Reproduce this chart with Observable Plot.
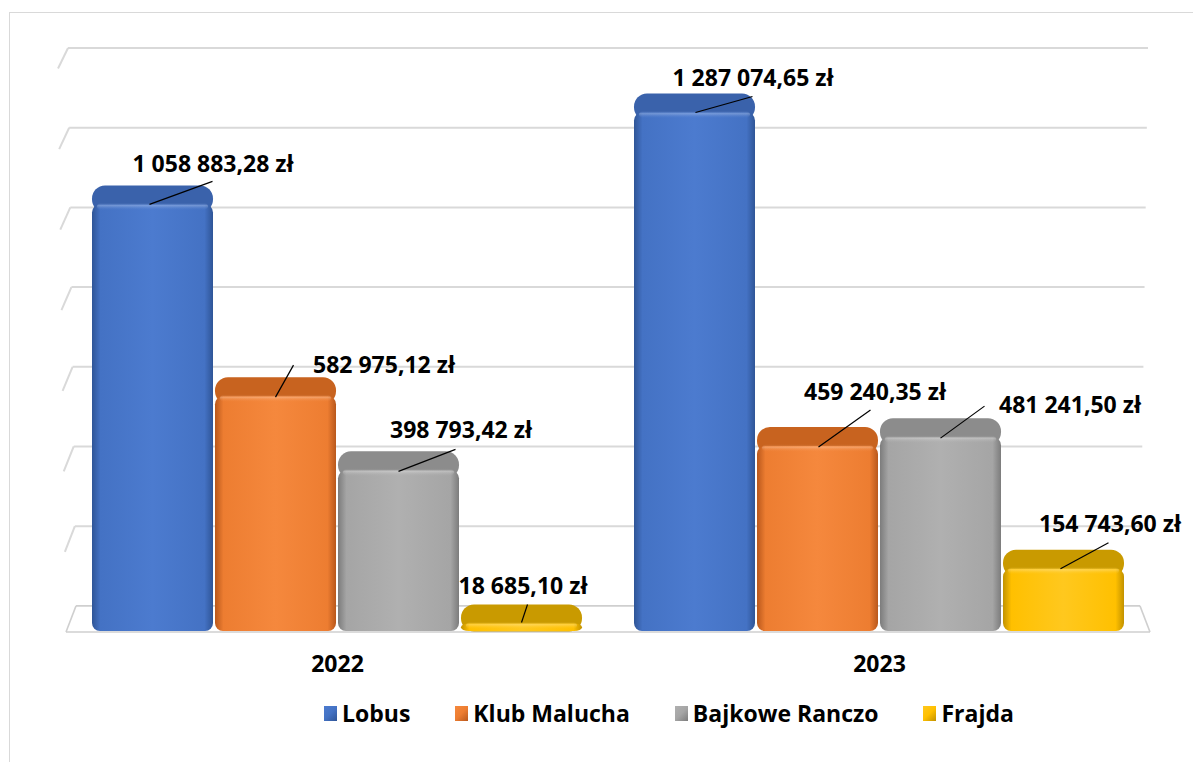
<!DOCTYPE html>
<html><head><meta charset="utf-8">
<script src="https://cdn.jsdelivr.net/npm/d3@7"></script>
<script src="https://cdn.jsdelivr.net/npm/@observablehq/plot@0.6"></script>
<style>
html,body{margin:0;padding:0;background:#fff;}
body{width:1193px;height:762px;position:relative;overflow:hidden;font-family:"Open Sans","Noto Sans",sans-serif;}
#frame{position:absolute;left:9px;top:12px;width:1400px;height:1000px;border:1px solid #d9d9d9;box-sizing:border-box;}
#chart{position:absolute;left:0;top:0;}
#legend{position:absolute;left:324px;top:697px;display:flex;font-weight:bold;font-size:23px;color:#000;line-height:32px;}
#legend .item{display:flex;align-items:center;margin-right:45px;}
#legend .sw{width:13px;height:15px;margin-right:5px;}
</style></head>
<body>
<div id="frame"></div>
<div id="chart"></div>
<div id="legend"></div>
<script>
// ---- data ----
const years = ["2022", "2023"];
const series = ["Lobus", "Klub Malucha", "Bajkowe Ranczo", "Frajda"];
const values2022 = [1058883.28, 582975.12, 398793.42, 18685.10];
const values2023 = [1287074.65, 459240.35, 481241.50, 154743.60];
const gridTicks = [0, 200000, 400000, 600000, 800000, 1000000, 1200000, 1400000];

// ---- styles ----
const baseColors = ["#4472c4", "#ed7d31", "#a5a5a5", "#ffc000"];
const edgeColors = ["#2f5597", "#b9581c", "#7c7c7c", "#c29200"];
const lightColors = ["#4c7bcf", "#f5883d", "#b0b0b0", "#ffc81e"];
const topColors = ["#3a62ab", "#c8631f", "#8c8c8c", "#c99a00"];
// label placement (pixel offsets from bar centre / bar top), order: 2022 series, then 2023 series
const labelLayout = [
  {dx: 60, dy: -33, bx: -3, by: 0, lx: 60, ly: -23},
  {dx: 108, dy: -24, bx: 0, by: 1, lx: 18, ly: -31},
  {dx: 62, dy: -33, bx: 0, by: 1, lx: 57, ly: -21},
  {dx: 1, dy: -30, bx: 0, by: -1, lx: 6, ly: -19},
  {dx: 58, dy: -27, bx: 1, by: 0, lx: 58, ly: -16},
  {dx: 57, dy: -46, bx: 1, by: 1, lx: 53, ly: -36},
  {dx: 129, dy: -25, bx: 0, by: 1, lx: 44, ly: -31},
  {dx: 46, dy: -37, bx: -3, by: 0, lx: 45, ly: -26}
];

const rows = [];
years.forEach((yr, gi) => {
  const vals = gi === 0 ? values2022 : values2023;
  series.forEach((s, si) => rows.push({year: yr, series: s, si, value: vals[si], idx: rows.length}));
});

const pl = d3.formatLocale({decimal: ",", thousands: "\u00a0", grouping: [3], currency: ["", ""]});
const fmt = v => pl.format(",.2f")(v) + "\u00a0zł";

const NS = "http://www.w3.org/2000/svg";
function el(tag, attrs) {
  const e = document.createElementNS(NS, tag);
  for (const k in attrs) e.setAttribute(k, attrs[k]);
  return e;
}

// back-wall projection of a front-plane y pixel
const backY = yy => 0.989 * yy - 18.2;

let wallCall = 0;
function wall(index, scales) {
  const k = wallCall++;
  const g = el("g", {fill: "none"});
  const y = scales.y;
  const [r0, r1] = scales.x.range();
  const yTop = y(gridTicks[gridTicks.length - 1]), yBot = y(0);
  gridTicks.forEach(v => {
    const isFloor = v === 0;
    const yf = isFloor ? yBot + 1 : y(v) + 1.5;
    const yb = backY(y(v));
    const t = (yf - yTop) / (yBot - yTop); // 0 top .. 1 bottom
    const lx0 = r0 - 8 + 8 * t, ux0 = lx0 + 10;
    const ux1 = r1 - 2 - 8 * t;
    const stroke = isFloor ? "#cfcfcf" : "#d9d9d9";
    const sw = isFloor ? 1.6 : 2;
    const xs = k === 0 ? ux0 : r0;
    const xe = k === years.length - 1 ? ux1 : r1;
    g.append(el("line", {x1: xs, x2: xe, y1: yb, y2: yb, stroke, "stroke-width": sw}));
    if (k === 0) g.append(el("line", {x1: lx0, y1: yf, x2: ux0, y2: yb, stroke, "stroke-width": sw}));
    if (isFloor) {
      g.append(el("line", {x1: r0, x2: r1, y1: yf, y2: yf, stroke, "stroke-width": sw}));
      if (k === years.length - 1) g.append(el("line", {x1: ux1, y1: yb, x2: r1, y2: yf, stroke, "stroke-width": sw}));
    }
  });
  return g;
}

let leaderCall = 0;
function leaders(index, scales) {
  const k = leaderCall++;
  const g = el("g", {stroke: "#000", "stroke-width": 1.2});
  const x = scales.x, y = scales.y, bw = x.bandwidth();
  rows.filter(r => r.year === years[k]).forEach(r => {
    const L = labelLayout[r.idx];
    const cx = x(r.series) + bw / 2, cy = y(r.value);
    g.append(el("line", {x1: cx + L.bx, y1: cy + L.by, x2: cx + L.lx, y2: cy + L.ly}));
  });
  return g;
}

const marks = [wall];
// top (receding) face of each bar
marks.push(Plot.barY(rows, {fx: "year", x: "series", y1: "value", y2: "value", insetTop: -19, insetBottom: -8, rx: 13, insetLeft: 1, insetRight: 1,
  fill: d => topColors[d.si]}));
// front face
marks.push(Plot.barY(rows, {fx: "year", x: "series", y: "value", rx: 8, insetLeft: 1, insetRight: 1,
  fill: d => `url(#front${d.si})`}));
// top bevel highlight
marks.push(Plot.barY(rows, {fx: "year", x: "series", y1: "value", y2: "value", insetTop: -2, insetBottom: -6, rx: 6, insetLeft: 6, insetRight: 6,
  fill: d => `url(#bevel${d.si})`}));
marks.push(leaders);
rows.forEach(r => {
  const L = labelLayout[r.idx];
  marks.push(Plot.text([r], {fx: "year", x: "series", y: "value", text: d => fmt(d.value), dx: L.dx, dy: L.dy,
    lineAnchor: "bottom", fill: "#000", fontSize: 23, fontWeight: "bold"}));
});

const chart = Plot.plot({
  width: 1193, height: 690,
  marginLeft: 65, marginRight: 43, marginTop: 67, marginBottom: 59,
  style: {fontFamily: "'Open Sans', 'Noto Sans', sans-serif", fontSize: "23px", fontWeight: "bold", color: "#000", background: "transparent", overflow: "visible"},
  fx: {domain: years, padding: 0, axis: "bottom", tickSize: 0, tickPadding: 24, label: null},
  x: {domain: series, paddingInner: 0, paddingOuter: 0.2, axis: null},
  y: {domain: [0, 1400000], axis: null},
  color: {type: "identity"},
  marks
});
const svg = chart.tagName.toLowerCase() === "svg" ? chart : chart.querySelector("svg");
const defs = el("defs", {});
baseColors.forEach((c, i) => {
  const lg = el("linearGradient", {id: `front${i}`, x1: 0, x2: 1, y1: 0, y2: 0});
  [[0, edgeColors[i]], [0.07, baseColors[i]], [0.5, lightColors[i]], [0.93, baseColors[i]], [1, edgeColors[i]]]
    .forEach(([o, col]) => lg.append(el("stop", {offset: o, "stop-color": col})));
  defs.append(lg);
  const bv = el("linearGradient", {id: `bevel${i}`, x1: 0, x2: 0, y1: 0, y2: 1});
  [[0, lightColors[i], 0.0], [0.4, "#ffffff", 0.25], [1, lightColors[i], 0]]
    .forEach(([o, col, op]) => bv.append(el("stop", {offset: o, "stop-color": col, "stop-opacity": op})));
  defs.append(bv);
});
svg.insertBefore(defs, svg.firstChild);
document.getElementById("chart").append(chart);

// legend
const leg = document.getElementById("legend");
series.forEach((s, i) => {
  const it = document.createElement("div");
  it.className = "item";
  const sw = document.createElement("div");
  sw.className = "sw";
  sw.style.background = `linear-gradient(135deg, ${lightColors[i]} 0%, ${baseColors[i]} 50%, ${edgeColors[i]} 100%)`;
  const tx = document.createElement("span");
  tx.textContent = s;
  it.append(sw, tx);
  leg.append(it);
});
</script>
</body></html>
